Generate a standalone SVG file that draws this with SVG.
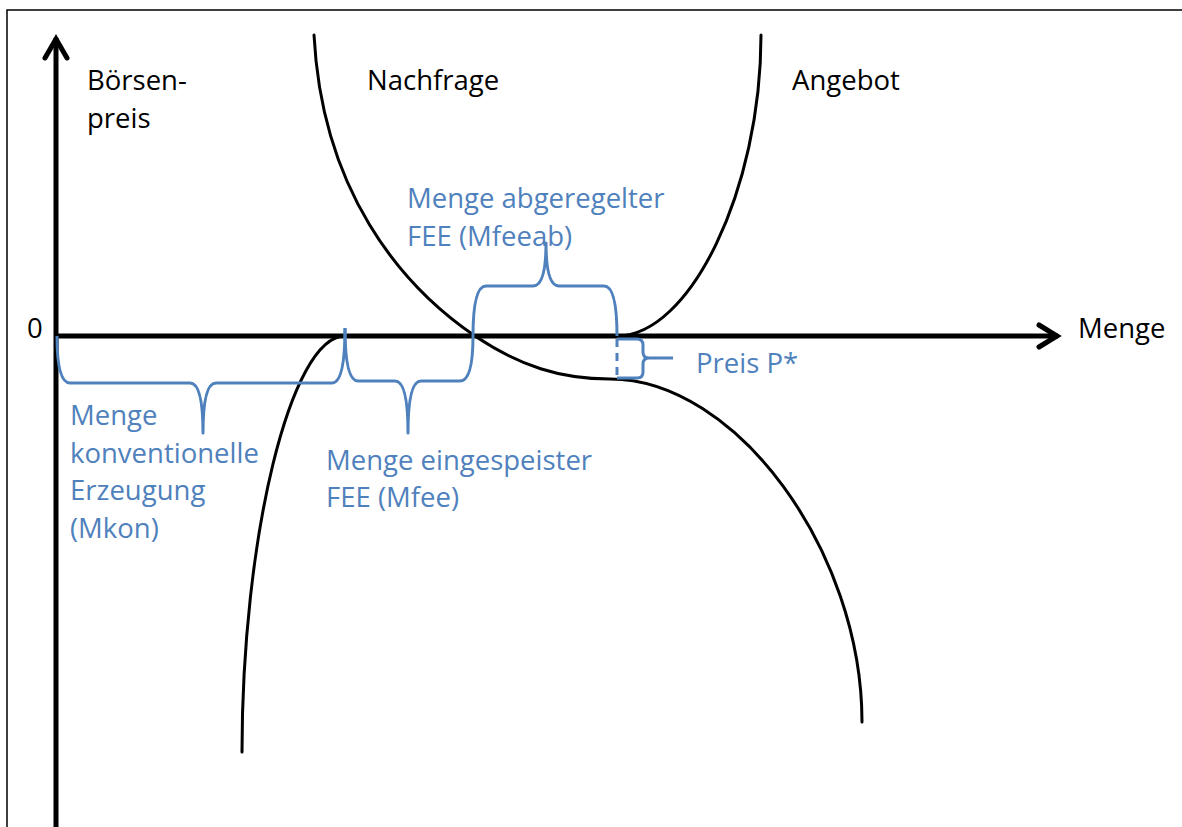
<svg xmlns="http://www.w3.org/2000/svg" width="1182" height="827" viewBox="0 0 1182 827">
<style>
.lbl{font-family:"Open Sans","Liberation Sans",sans-serif;font-size:27.5px;fill:#000}
.blbl{font-family:"Open Sans","Liberation Sans",sans-serif;font-size:27.5px;fill:#4f81bd}
.axis{stroke:#000;stroke-width:5;fill:none}
.curve{stroke:#000;stroke-width:3;fill:none;stroke-linecap:round}
.brace{stroke:#4f81bd;stroke-width:3;fill:none;stroke-linejoin:round}
</style>
<rect width="1182" height="827" fill="#fff"/>
<g id="frame"><path d="M7,827 V10 H1182" stroke="#000" stroke-width="1.5" fill="none"/></g>
<g id="axes">
<path class="axis" d="M56,827 V38"/>
<path class="axis" d="M45,58 L56,39 L67,58" stroke-linecap="round" stroke-linejoin="miter"/>
<path class="axis" d="M56,336 H1058"/>
<path class="axis" d="M1039,325 L1057,336 L1039,347" stroke-linecap="round"/>
</g>
<g id="nachfrage">
<path class="curve" d="M314,35 C322,190 400,285 475,336 C520,366 560,379 610,379 C736,379 862,551 862,722"/>
</g>
<g id="angebot">
<path class="curve" d="M242,752 C242,540 290,336 345,336 L617,336 C690,336 761,190 761,35"/>
</g>
<g id="braces">
<path class="brace" d="M57,336 Q57,383 70,383 L190,383 Q203,383 203,433 Q203,383 216,383 L332,383 Q345,383 345,328"/>
<path class="brace" d="M345,328 Q345,381 358,381 L395,381 Q408,381 408,433 Q408,381 421,381 L460,381 Q473,381 473,336"/>
<path class="brace" d="M473,336 Q473,286 486,286 L533,286 Q546,286 546,243 Q546,286 559,286 L604,286 Q617,286 617,336"/>
<path class="brace" d="M617,339 V379" stroke-dasharray="8,6"/>
<path class="brace" d="M617,339 L637,339 Q643,339 643,345 L643,352 Q643,358 649,358 L673,358 M649,358 Q643,358 643,364 L643,372 Q643,378 637,378 L617,378"/>
</g>
<g id="labels">
<text class="lbl" x="87" y="90">Börsen-</text>
<text class="lbl" x="87" y="128">preis</text>
<text class="lbl" x="367" y="90">Nachfrage</text>
<text class="lbl" x="792" y="90">Angebot</text>
<text class="lbl" x="1078" y="338">Menge</text>
<text class="lbl" x="27" y="338">0</text>
<text class="blbl" x="407" y="208">Menge abgeregelter</text>
<text class="blbl" x="407" y="246">FEE (Mfeeab)</text>
<text class="blbl" x="70" y="425">Menge</text>
<text class="blbl" x="70" y="463">konventionelle</text>
<text class="blbl" x="70" y="500">Erzeugung</text>
<text class="blbl" x="70" y="538">(Mkon)</text>
<text class="blbl" x="326" y="470">Menge eingespeister</text>
<text class="blbl" x="326" y="507">FEE (Mfee)</text>
<text class="blbl" x="696" y="373">Preis P*</text>
</g>
</svg>
